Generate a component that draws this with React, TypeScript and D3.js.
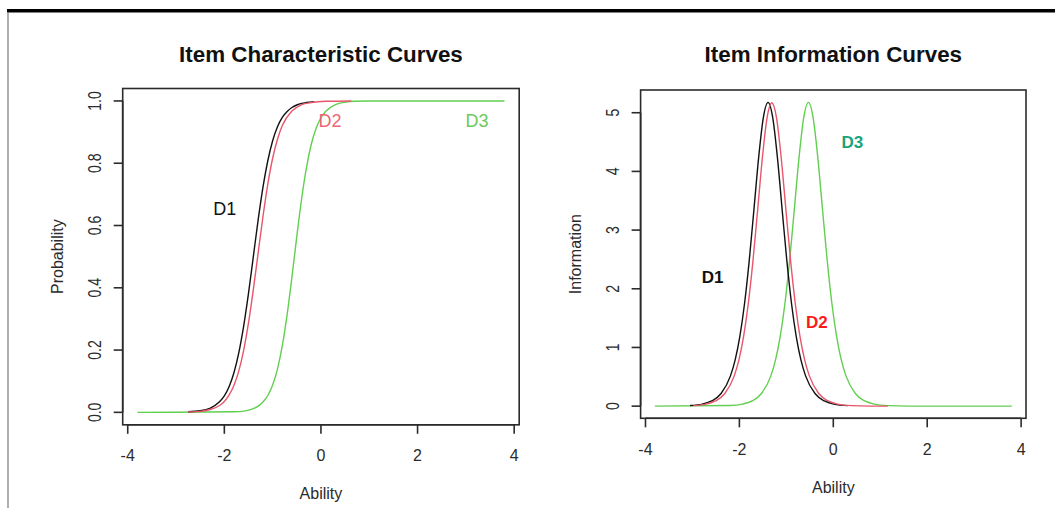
import React from 'react';
import * as d3 from 'd3';

// tick values
const abilityTicks = [-4, -2, 0, 2, 4];
const probTicks = [0, 0.2, 0.4, 0.6, 0.8, 1.0];
const infoTicks = [0, 1, 2, 3, 4, 5];

// item characteristic curves, [ability, probability]
const iccD1: [number, number][] = [
  [-2.75, 0.002], [-2.5, 0.005], [-2.3, 0.013], [-2.1, 0.034], [-2.0, 0.053],
  [-1.9, 0.083], [-1.8, 0.128], [-1.7, 0.192], [-1.6, 0.277], [-1.5, 0.382],
  [-1.4, 0.5], [-1.3, 0.618], [-1.2, 0.723], [-1.1, 0.808], [-1.0, 0.872],
  [-0.9, 0.917], [-0.8, 0.947], [-0.7, 0.966], [-0.6, 0.979], [-0.5, 0.987],
  [-0.4, 0.992], [-0.3, 0.995], [-0.14, 0.998],
];
const iccD2: [number, number][] = [
  [-2.75, 0.001], [-2.5, 0.003], [-2.3, 0.009], [-2.1, 0.022], [-2.0, 0.035],
  [-1.9, 0.056], [-1.8, 0.087], [-1.7, 0.133], [-1.6, 0.199], [-1.5, 0.287],
  [-1.4, 0.394], [-1.3, 0.512], [-1.2, 0.629], [-1.1, 0.733], [-1.0, 0.816],
  [-0.9, 0.877], [-0.8, 0.921], [-0.6, 0.968], [-0.4, 0.988], [-0.2, 0.995],
  [0.1, 0.999], [0.63, 1.0],
];
const iccD3: [number, number][] = [
  [-3.8, 0.0], [-1.8, 0.002], [-1.6, 0.004], [-1.4, 0.012], [-1.3, 0.02],
  [-1.2, 0.033], [-1.1, 0.054], [-1.0, 0.088], [-0.9, 0.139], [-0.8, 0.214],
  [-0.7, 0.314], [-0.6, 0.435], [-0.5, 0.565], [-0.4, 0.686], [-0.3, 0.786],
  [-0.2, 0.861], [-0.1, 0.912], [0.0, 0.946], [0.1, 0.967], [0.3, 0.988],
  [0.5, 0.996], [0.7, 0.999], [1.0, 1.0], [3.8, 1.0],
];

// item information curves, [ability, information]
const infoD1: [number, number][] = [
  [-3.05, 0.011], [-2.79, 0.035], [-2.59, 0.088], [-2.39, 0.215], [-2.19, 0.516],
  [-2.09, 0.789], [-1.99, 1.19], [-1.89, 1.749], [-1.79, 2.484], [-1.69, 3.354],
  [-1.59, 4.236], [-1.49, 4.917], [-1.39, 5.176], [-1.29, 4.917], [-1.19, 4.236],
  [-1.09, 3.354], [-0.99, 2.484], [-0.89, 1.749], [-0.79, 1.19], [-0.69, 0.789],
  [-0.59, 0.516], [-0.39, 0.215], [-0.19, 0.088], [0.01, 0.035], [0.31, 0.009],
];
const infoD2: [number, number][] = [
  [-2.98, 0.011], [-2.71, 0.035], [-2.51, 0.088], [-2.31, 0.215], [-2.11, 0.516],
  [-2.01, 0.789], [-1.91, 1.19], [-1.81, 1.749], [-1.71, 2.484], [-1.61, 3.354],
  [-1.51, 4.236], [-1.41, 4.917], [-1.31, 5.17], [-1.21, 4.917], [-1.11, 4.236],
  [-1.01, 3.354], [-0.91, 2.484], [-0.81, 1.749], [-0.71, 1.19], [-0.61, 0.789],
  [-0.51, 0.516], [-0.31, 0.215], [-0.11, 0.088], [0.09, 0.035], [0.39, 0.009],
  [0.8, 0.001], [1.16, 0.0],
];
const infoD3: [number, number][] = [
  [-3.8, 0.0], [-2.2, 0.011], [-1.93, 0.035], [-1.73, 0.088], [-1.53, 0.215],
  [-1.33, 0.516], [-1.23, 0.789], [-1.13, 1.19], [-1.03, 1.749], [-0.93, 2.484],
  [-0.83, 3.354], [-0.73, 4.236], [-0.63, 4.917], [-0.53, 5.176], [-0.43, 4.917],
  [-0.33, 4.236], [-0.23, 3.354], [-0.13, 2.484], [-0.03, 1.749], [0.07, 1.19],
  [0.17, 0.789], [0.27, 0.516], [0.47, 0.215], [0.67, 0.088], [0.87, 0.035],
  [1.17, 0.009], [1.6, 0.001], [3.8, 0.0],
];

// curve labels placed in data coordinates
const iccLabels = [
  { text: 'D1', x: -1.99, y: 0.653 },
  { text: 'D2', x: 0.19, y: 0.936 },
  { text: 'D3', x: 3.23, y: 0.936 },
];
const infoLabels = [
  { text: 'D1', x: -2.57, y: 2.19 },
  { text: 'D2', x: -0.35, y: 1.42 },
  { text: 'D3', x: 0.405, y: 4.5 },
];

const FONT = '"Liberation Sans", Arial, sans-serif';
const INK = '#2b2b2b';

type Series = { data: [number, number][]; color: string };
type Label = { text: string; x: number; y: number; color: string };

type PanelProps = {
  title: string;
  ylab: string;
  left: number;
  right: number;
  top: number;
  bottom: number;
  yMax: number;
  yTicks: number[];
  yFormat: (v: number) => string;
  series: Series[];
  labels: Label[];
  labelWeight: string;
  labelSize: number;
};

const Panel = (p: PanelProps) => {
  // R style: 4% padding on each side of the data range
  const xData = [-3.8, 3.8];
  const xPad = (xData[1] - xData[0]) * 0.04;
  const yPad = p.yMax * 0.04;
  const x = d3.scaleLinear().domain([xData[0] - xPad, xData[1] + xPad]).range([p.left, p.right]);
  const y = d3.scaleLinear().domain([-yPad, p.yMax + yPad]).range([p.bottom, p.top]);
  const line = d3.line<[number, number]>()
    .x(d => x(d[0]))
    .y(d => y(d[1]))
    .curve(d3.curveMonotoneX);
  const cx = (p.left + p.right) / 2;
  const cy = (p.top + p.bottom) / 2;

  return (
    <g fontFamily={FONT}>
      <text x={cx} y={62} textAnchor="middle" fontWeight="bold" fontSize={22.4} fill="#111">{p.title}</text>

      {p.series.map((s, i) => (
        <path key={i} d={line(s.data) || ''} fill="none" stroke={s.color} strokeWidth={1.4} />
      ))}

      <rect x={p.left} y={p.top} width={p.right - p.left} height={p.bottom - p.top}
        fill="none" stroke={INK} strokeWidth={1.6} />

      {/* x axis */}
      <line x1={x(abilityTicks[0])} x2={x(abilityTicks[abilityTicks.length - 1])}
        y1={p.bottom} y2={p.bottom} stroke={INK} strokeWidth={1.6} />
      {abilityTicks.map(t => (
        <g key={t}>
          <line x1={x(t)} x2={x(t)} y1={p.bottom} y2={p.bottom + 9} stroke={INK} strokeWidth={1.6} />
          <text x={x(t)} y={p.bottom + 31} textAnchor="middle" dominantBaseline="central"
            fontSize={16} fill={INK}>{t}</text>
        </g>
      ))}
      <text x={cx} y={p.bottom + 69} textAnchor="middle" dominantBaseline="central"
        fontSize={16} fill={INK}>Ability</text>

      {/* y axis */}
      <line x1={p.left} x2={p.left} y1={y(p.yTicks[0])} y2={y(p.yTicks[p.yTicks.length - 1])}
        stroke={INK} strokeWidth={1.6} />
      {p.yTicks.map(t => (
        <g key={t}>
          <line x1={p.left - 9} x2={p.left} y1={y(t)} y2={y(t)} stroke={INK} strokeWidth={1.6} />
          <text transform={`translate(${p.left - 28},${y(t)}) rotate(-90) scale(0.78,1)`} textAnchor="middle"
            dominantBaseline="central" fontSize={18} fill={INK}>{p.yFormat(t)}</text>
        </g>
      ))}
      <text transform={`translate(${p.left - 65},${cy}) rotate(-90)`} textAnchor="middle"
        dominantBaseline="central" fontSize={16} fill={INK}>{p.ylab}</text>

      {p.labels.map(l => (
        <text key={l.text} x={x(l.x)} y={y(l.y)} textAnchor="middle" dominantBaseline="central"
          fontSize={p.labelSize} fontWeight={p.labelWeight} fill={l.color}>{l.text}</text>
      ))}
    </g>
  );
};

const App = () => {
  const black = '#111111';
  const red = '#e8566c';
  const green = '#61cf4f';

  return (
    <svg width={1055} height={508} style={{ position: 'absolute', left: 0, top: 0, background: '#fff' }}>
      <rect x={0} y={0} width={1055} height={508} fill="#fff" />
      <line x1={7} x2={1055} y1={10.7} y2={10.7} stroke="#000" strokeWidth={3.5} />
      <line x1={8} x2={8} y1={12} y2={508} stroke="#777" strokeWidth={1.2} />

      <Panel
        title="Item Characteristic Curves"
        ylab="Probability"
        left={122.7} right={519.2} top={88.5} bottom={424.8}
        yMax={1}
        yTicks={probTicks}
        yFormat={v => v.toFixed(1)}
        series={[
          { data: iccD3, color: green },
          { data: iccD1, color: black },
          { data: iccD2, color: red },
        ]}
        labels={[
          { ...iccLabels[0], color: black },
          { ...iccLabels[1], color: '#ee6675' },
          { ...iccLabels[2], color: '#6cc95c' },
        ]}
        labelWeight="normal"
        labelSize={18}
      />

      <Panel
        title="Item Information Curves"
        ylab="Information"
        left={640.6} right={1026} top={90} bottom={418.3}
        yMax={5.18}
        yTicks={infoTicks}
        yFormat={v => String(v)}
        series={[
          { data: infoD3, color: green },
          { data: infoD1, color: black },
          { data: infoD2, color: red },
        ]}
        labels={[
          { ...infoLabels[0], color: black },
          { ...infoLabels[1], color: '#ff1a1a' },
          { ...infoLabels[2], color: '#17a47a' },
        ]}
        labelWeight="bold"
        labelSize={17}
      />
    </svg>
  );
};

export default App;
